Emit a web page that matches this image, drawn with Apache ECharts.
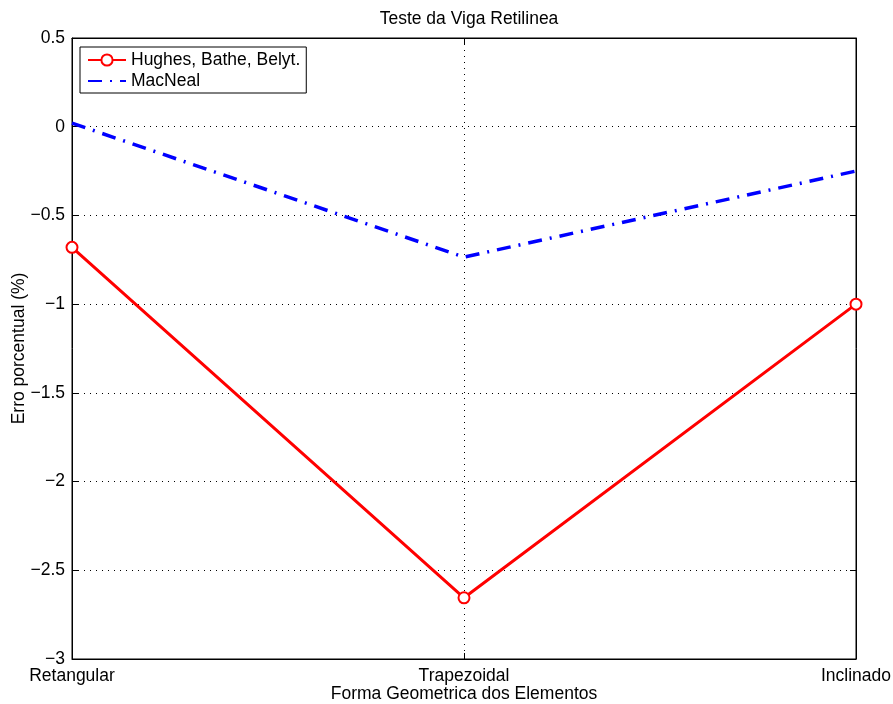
<!DOCTYPE html>
<html><head><meta charset="utf-8">
<script src="https://cdn.jsdelivr.net/npm/echarts@6/dist/echarts.min.js"></script>
<style>html,body{margin:0;padding:0;background:#fff}#c{width:893px;height:704px}</style>
</head><body><div id="c"></div>
<script>
const categories = ['Retangular', 'Trapezoidal', 'Inclinado'];
const hughes = [-0.68, -2.655, -1.0];
const macneal = [0.02, -0.735, -0.25];
const yTicks = { min: -3, max: 0.5, interval: 0.5 };

const font = 'Liberation Sans, Arial, Helvetica, sans-serif';
const fs = 17.5;
const fmt = v => String(v).replace('-', '\u2212');
const chart = echarts.init(document.getElementById('c'));
chart.setOption({
  animation: false,
  backgroundColor: '#fff',
  title: { text: 'Teste da Viga Retilinea', left: 464, top: 5, textAlign: 'center',
    textStyle: { fontFamily: font, fontSize: fs, fontWeight: 'normal', color: '#000' } },
  grid: { left: 72, right: 37, top: 38, bottom: 45, containLabel: false, outerBoundsMode: 'none',
    show: true, borderColor: '#000', borderWidth: 1 },
  legend: {
    left: 80, top: 47, orient: 'vertical', itemGap: 3, itemWidth: 38, itemHeight: 14,
    borderColor: '#000', borderWidth: 1, padding: [4, 6, 3, 7], backgroundColor: '#fff',
    textStyle: { fontFamily: font, fontSize: fs, color: '#000' },
    data: [{ name: 'Hughes, Bathe, Belyt.' }, { name: 'MacNeal', itemStyle: { opacity: 0 } }]
  },
  xAxis: [{
    type: 'category', data: categories, boundaryGap: false,
    axisLine: { show: true, onZero: false, lineStyle: { color: '#000' } },
    axisTick: { inside: true, length: 6, lineStyle: { color: '#000' } },
    axisLabel: { fontFamily: font, fontSize: fs, color: '#000', margin: 8 },
    splitLine: { show: true, lineStyle: { color: '#000', type: [1, 5], width: 1 } },
    name: 'Forma Geometrica dos Elementos', nameLocation: 'middle', nameGap: 26, nameMoveOverlap: false,
    nameTextStyle: { fontFamily: font, fontSize: fs, color: '#000' }
  }, {
    type: 'category', data: categories, boundaryGap: false, position: 'top',
    axisLine: { show: true, onZero: false, lineStyle: { color: '#000' } },
    axisTick: { inside: true, length: 6, lineStyle: { color: '#000' } },
    axisLabel: { show: false }, splitLine: { show: false }
  }],
  yAxis: [{
    type: 'value', min: yTicks.min, max: yTicks.max, interval: yTicks.interval,
    axisLine: { show: true, onZero: false, lineStyle: { color: '#000' } },
    axisTick: { show: true, inside: true, length: 6, lineStyle: { color: '#000' } },
    axisLabel: { fontFamily: font, fontSize: fs, color: '#000', margin: 7, formatter: fmt },
    splitLine: { show: true, lineStyle: { color: '#000', type: [1, 5], width: 1 } },
    name: 'Erro porcentual (%)', nameLocation: 'middle', nameGap: 44, nameMoveOverlap: false,
    nameTextStyle: { fontFamily: font, fontSize: fs, color: '#000' }
  }, {
    type: 'value', min: yTicks.min, max: yTicks.max, interval: yTicks.interval, position: 'right',
    axisLine: { show: true, onZero: false, lineStyle: { color: '#000' } },
    axisTick: { show: true, inside: true, length: 6, lineStyle: { color: '#000' } },
    axisLabel: { show: false }, splitLine: { show: false }
  }],
  series: [{
    name: 'Hughes, Bathe, Belyt.', type: 'line', data: hughes,
    symbol: 'emptyCircle', symbolSize: 11, showAllSymbol: true,
    lineStyle: { color: '#ff0000', width: 3 },
    itemStyle: { color: '#ff0000', borderColor: '#ff0000', borderWidth: 3 },
    z: 3
  }, {
    name: 'MacNeal', type: 'line', data: macneal, symbol: 'none',
    lineStyle: { color: '#0000ff', width: 3.5, type: [14, 8, 2, 8] },
    itemStyle: { color: '#0000ff' },
    z: 2
  }]
});
</script></body></html>
